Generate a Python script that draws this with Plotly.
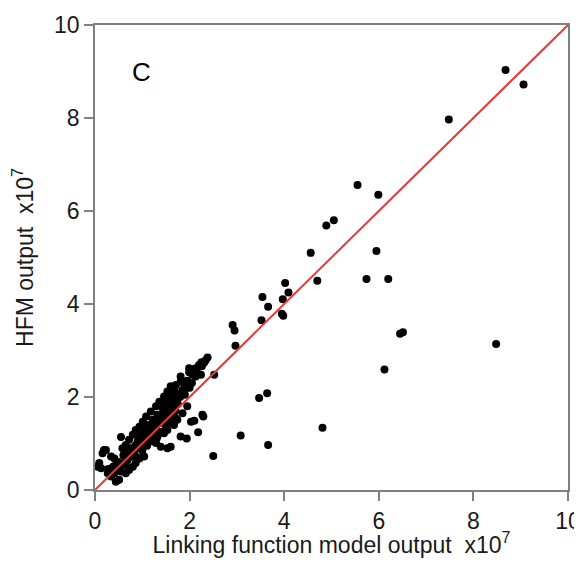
import plotly.graph_objects as go

# Linking function model output (x1e7) vs HFM output (x1e7)
link_out = [
    8.68, 9.06, 7.48, 5.55, 5.99, 5.05, 4.89, 4.56, 5.95, 4.70, 5.74, 6.20,
    4.02, 4.09, 3.97, 3.54, 3.66, 3.95, 3.98, 3.52, 2.91, 2.95, 2.97, 6.45,
    6.51, 8.48, 2.38, 2.31, 2.26, 2.24, 2.52, 6.12, 3.64, 3.47, 2.29, 3.08,
    4.81, 3.66, 2.50, 2.10, 2.18, 1.94, 0.55, 1.99, 2.06, 2.13, 1.81, 1.88,
    1.67, 1.74, 1.60, 1.57, 1.50, 1.64, 1.43, 1.32, 1.22, 1.43, 1.53, 1.11,
    1.04, 1.25, 1.36, 1.81, 1.60, 1.53, 1.39, 1.22, 1.11, 1.01, 0.90, 0.83,
    0.76, 0.69, 0.62, 0.55, 0.48, 0.41, 0.34, 0.94, 1.04, 0.86, 0.80, 0.72,
    0.65, 0.23, 0.16, 0.34, 0.41, 0.06, 0.13, 0.27, 0.34, 0.44, 0.51, 1.99,
    1.81, 1.71, 1.60, 1.53, 1.46, 1.36, 1.29, 1.18, 1.08, 1.01, 0.94, 0.86,
    0.80, 0.72, 0.65, 0.58, 1.74, 1.67, 1.53, 1.46, 1.32, 1.29, 2.13, 2.20,
    0.09, 0.19, 2.34, 1.95, 1.20, 0.98, 1.70, 1.45, 2.03, 2.27,
    0.70, 0.75, 0.85, 0.90, 0.95, 1.00, 1.05, 1.10, 1.15, 1.20, 1.25, 1.30,
    1.35, 1.40, 1.45, 1.50, 1.55, 1.60, 1.65, 1.70, 1.75, 1.80, 1.85, 1.90,
    1.95, 2.00, 2.05, 2.10, 2.15, 2.25, 0.60, 0.50, 0.45, 0.55, 0.65, 0.90,
    1.00, 1.10, 1.20, 1.30, 1.40, 1.50, 1.60, 1.70, 1.85, 1.95, 0.28, 0.38,
]
hfm_out = [
    9.03, 8.72, 7.97, 6.56, 6.35, 5.80, 5.69, 5.10, 5.14, 4.50, 4.54, 4.54,
    4.45, 4.25, 4.10, 4.15, 3.94, 3.79, 3.75, 3.65, 3.55, 3.43, 3.10, 3.36,
    3.39, 3.14, 2.85, 2.74, 2.66, 2.48, 2.48, 2.59, 2.08, 1.98, 1.58, 1.17,
    1.34, 0.97, 0.73, 1.49, 1.24, 1.11, 1.14, 2.53, 2.48, 2.44, 2.33, 2.30,
    2.16, 2.08, 2.05, 1.94, 1.87, 1.83, 1.76, 1.62, 1.51, 1.55, 1.65, 1.40,
    1.33, 1.36, 1.44, 1.15, 0.93, 0.90, 0.93, 1.15, 1.04, 0.97, 0.90, 0.79,
    0.72, 0.65, 0.58, 0.50, 0.43, 0.36, 0.29, 0.68, 0.72, 0.58, 0.50, 0.43,
    0.36, 0.86, 0.79, 0.72, 0.68, 0.50, 0.47, 0.36, 0.32, 0.18, 0.22, 2.62,
    2.44, 2.26, 2.23, 2.12, 2.01, 1.90, 1.80, 1.69, 1.58, 1.47, 1.36, 1.29,
    1.19, 1.08, 0.97, 0.90, 1.51, 1.40, 1.29, 1.22, 1.15, 1.01, 2.62, 2.69,
    0.58, 0.86, 2.79, 2.20, 1.25, 1.20, 1.95, 1.70, 1.47, 1.62,
    0.80, 0.90, 0.95, 1.05, 1.15, 1.20, 1.10, 1.25, 1.20, 1.35, 1.45, 1.30,
    1.55, 1.45, 1.65, 1.50, 1.75, 1.60, 1.95, 1.70, 1.85, 2.00, 2.15, 2.05,
    2.35, 2.20, 2.30, 2.60, 2.55, 2.75, 0.75, 0.60, 0.55, 0.40, 0.55, 0.70,
    0.85, 0.95, 1.05, 1.10, 1.25, 1.35, 1.45, 1.55, 1.65, 1.80, 0.45, 0.50,
]
line_x = [0, 10]
line_y = [0, 10]
ticks = [0, 2, 4, 6, 8, 10]

FONT = "Liberation Sans, Arial, sans-serif"
INK = "#1a1a1a"

fig = go.Figure()
fig.add_trace(go.Scatter(
    x=link_out, y=hfm_out, mode="markers",
    marker=dict(size=8, color="black"),
    showlegend=False, cliponaxis=False,
))
fig.add_trace(go.Scatter(
    x=line_x, y=line_y, mode="lines",
    line=dict(color="#e5383b", width=2),
    showlegend=False,
))

axis_common = dict(
    range=[0, 10], tickvals=ticks, ticks="outside", ticklen=9,
    tickcolor="#808080", tickwidth=1.8, showline=True, linecolor="#808080",
    linewidth=1.8, mirror=True, showgrid=False, zeroline=False,
    automargin=False,
    tickfont=dict(size=23, color=INK, family=FONT),
)

# page body adds an 8px offset; keep the page shorter than the window
fig.update_layout(
    width=574, height=550,
    margin=dict(l=87, r=14, t=17, b=68),
    paper_bgcolor="white", plot_bgcolor="white",
    font=dict(family=FONT, color=INK),
    xaxis=dict(
        title=dict(text="Linking function model output\u00a0\u00a0x10<sup>7</sup>",
                   font=dict(size=23, color=INK), standoff=8),
        **axis_common,
    ),
    yaxis=dict(
        title=dict(text="HFM output\u00a0\u00a0x10<sup>7</sup>",
                   font=dict(size=23, color=INK), standoff=14),
        **axis_common,
    ),
    annotations=[dict(
        x=0.99, y=8.99, xref="x", yref="y", text="C", showarrow=False,
        font=dict(size=26, color="black", family=FONT),
    )],
)

fig.write_html("out.html")
